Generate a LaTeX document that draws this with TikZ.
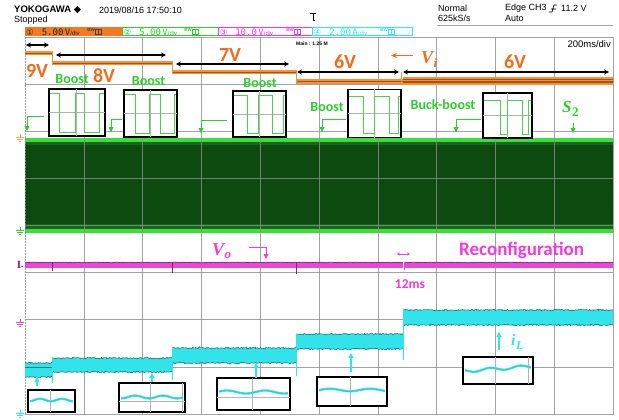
\documentclass[tikz,border=0pt]{standalone}
\usepackage{fontspec}
\setmainfont{Liberation Sans}
\newfontfamily\calfont{Carlito}
\newfontfamily\serfont{Liberation Serif}
\newfontfamily\djv{DejaVu Sans}
\newfontfamily\monof{DejaVu Sans Mono}
\usetikzlibrary{arrows.meta,decorations.pathmorphing}
\definecolor{oT}{HTML}{F26A1B}
\definecolor{chO}{HTML}{F47920}
\definecolor{oTr}{HTML}{F3913F}
\definecolor{oDk}{HTML}{A8520F}
\definecolor{gT}{HTML}{2ECC2E}
\definecolor{gW}{HTML}{4FCF4F}
\definecolor{bandD}{HTML}{0C4A10}
\definecolor{bandM}{HTML}{17661A}
\definecolor{bandL}{HTML}{3ADF3A}
\definecolor{mT}{HTML}{F03CD8}
\definecolor{mTr}{HTML}{E64AD8}
\definecolor{mDk}{HTML}{8A1E80}
\definecolor{cT}{HTML}{2EE6EE}
\definecolor{cTr}{HTML}{33E3EA}
\definecolor{cDk}{HTML}{1D7C80}
\definecolor{gridc}{HTML}{8C8C8C}
\tikzset{
  gridline/.style={draw=gridc, line width=0.6pt, opacity=0.8},
  voltlbl/.style={font=\calfont\bfseries\fontsize{20}{20}\selectfont, text=oT, inner sep=0pt},
  modelbl/.style={font=\calfont\bfseries\fontsize{14}{14}\selectfont, text=gT, inner sep=0pt},
  symlbl/.style={font=\serfont\bfseries\itshape\fontsize{18}{18}\selectfont, inner sep=0pt, anchor=base west},
  spanarrow/.style={draw=black, line width=1.1pt, {Stealth[length=5pt,width=5pt]}-{Stealth[length=5pt,width=5pt]}},
  gptr/.style={draw=gT, line width=0.9pt, -{Triangle[length=5pt,width=5pt]}},
  cptr/.style={draw=cT, line width=1.2pt, -{Triangle[length=5pt,width=5pt]}},
  insetbox/.style={draw=black, line width=1.2pt, fill=white},
  sqw/.style={draw=gW, line width=0.9pt},
  cwave/.style={draw=cT, line width=2.3pt},
  cwavec/.style={draw=cDk!70, line width=0.4pt},
  inlin/.style={draw=gray!60, line width=0.5pt},
  hdr/.style={font=\fontsize{9}{9}\selectfont, inner sep=0pt, anchor=west},
  chtxt/.style={font=\monof\fontsize{9}{9}\selectfont, inner sep=0pt, anchor=west},
  noisy/.style={decorate, decoration={random steps, segment length=1.2pt, amplitude=0.8pt}},
}
\newcommand\cseg[4]{%
  \fill[cTr] (#1,#3) rectangle (#2,#4);
  \draw[cDk, line width=0.6pt, noisy] (#1,#3) -- (#2,#3);
  \draw[cDk, line width=0.6pt, noisy] (#1,#4) -- (#2,#4);
}
\newcommand\oseg[4]{%
  \fill[oTr] (#1,#3) rectangle (#2,#4);
  \draw[oDk, line width=0.6pt] (#1,{(#3+#4)/2}) -- (#2,{(#3+#4)/2});
}
\newcommand\gndsym[3]{%
  \draw[#3, line width=0.7pt] (#1,{#2-3}) -- (#1,#2) (#1-4,#2) -- (#1+4,#2) (#1-2.6,#2+2) -- (#1+2.6,#2+2) (#1-1.2,#2+4) -- (#1+1.2,#2+4);
}
\newcommand\chicons[2]{%
  \node[inner sep=0pt, font=\fontsize{4.5}{4.5}\selectfont\bfseries, text=#2] at (#1,30) {BW};
  \draw[#2, line width=0.5pt] (#1+4,28.8) rectangle (#1+10,34.2) (#1+7,28.8) -- (#1+7,34.2);
}
\newcommand\chlabel[4]{{\djv\fontsize{8.5}{8.5}\selectfont #1}\hspace{8pt}#2\,#3{\fontsize{6}{6}\selectfont\normalfont/div}}
\begin{document}
\begin{tikzpicture}[x=1pt,y=-1pt]
\useasboundingbox (0,0) rectangle (619,420);
\fill[white] (0,0) rectangle (619,420);

% ---------- header ----------
\node[hdr, font=\bfseries\fontsize{9.5}{9.5}\selectfont] (yoko) at (14,10) {YOKOGAWA \djv◆};
\node[hdr] (date) at (99,10) {2019/08/16 17:50:10};
\node[hdr] (stop) at (14,20) {Stopped};
\node[hdr] (norm) at (438,8.5) {Normal};
\node[hdr] (rate) at (438,18) {625kS/s};
\node[hdr] (edge) at (505,8.5) {Edge CH3};
\node[hdr] (lev) at (561,8.5) {11.2 V};
\node[hdr] (auto) at (505,18) {Auto};
\draw[black, line width=0.7pt] (549,12) -- (552,12) -- (554,5) -- (557,5) (551,9) -- (556,9);
\draw[black, line width=0.7pt] (310,13) -- (316,13) (313,13) -- (313,20) -- (315,20);
\draw[gray!70, line width=0.8pt] (437,25) -- (613,25);

% channel boxes
\fill[chO] (25,27) rectangle (122,36);
\node[chtxt, text=black!85] (ch1) at (26,31.8) {\chlabel{①}{5.00}{V}{}};
\chicons{91}{black!75}

\draw[gT, line width=0.8pt] (122.5,27.5) rectangle (218,35.5);
\node[chtxt, text=gT] (ch2) at (123.5,31.8) {\chlabel{②}{5.00}{V}{}};
\chicons{188}{gT}

\draw[mT, line width=0.8pt] (218,27.5) rectangle (312,35.5);
\node[chtxt, text=mT] (ch3) at (219.5,31.8) {\chlabel{③}{10.0}{V}{}};
\chicons{290}{mT}

\draw[cT, line width=0.8pt] (312,27.5) rectangle (412,35.5);
\node[chtxt, text=cT] (ch4) at (313.5,31.8) {\chlabel{④}{2.00}{A}{}};
\chicons{384}{cT}

% ---------- S2 band ----------
\fill[bandD] (25,141) rectangle (613,229);
\fill[bandM] (25,141.5) rectangle (613,145);
\fill[bandM] (25,224) rectangle (613,228.5);
\fill[bandL] (25,137.5) rectangle (613,141.5);
\fill[bandL] (25,228.5) rectangle (613,232.5);

% ---------- grid ----------
\foreach \i in {1,...,9} \draw[gridline] ({25+58.8*\i},37) -- ({25+58.8*\i},414);
\foreach \j in {1,...,7} \draw[gridline] (25,{37+47.125*\j}) -- (613,{37+47.125*\j});
\draw[gridline] (25,37) -- (613,37) -- (613,414) -- (25,414);
\draw[gridline, dashed, dash pattern=on 2pt off 1pt] (25,37) -- (25,414);
\node[anchor=north west, inner sep=0pt, font=\bfseries\fontsize{5}{5}\selectfont] (main) at (296,41.5) {Main : 1.25 M};
\node[anchor=north east, inner sep=0pt, font=\fontsize{9.5}{9.5}\selectfont] (tdiv) at (611,40) {200ms/div};

% left markers
\gndsym{20}{137}{orange!70}
\gndsym{20}{230}{gT}
\gndsym{20}{322}{mT}
\gndsym{20}{413}{cT}
\node[inner sep=0pt, font=\serfont\bfseries\fontsize{11}{11}\selectfont, text=mDk] (mk) at (19,265) {I};
\fill[mDk] (22,266.5) circle (0.8pt);

% ---------- Vi (orange) ----------
\oseg{25}{52}{51}{55}
\oseg{52}{172}{61}{65.5}
\oseg{172}{296}{70}{74.5}
\oseg{296}{403}{79}{84}
\oseg{403}{613}{77}{85}
\draw[oDk, line width=0.6pt] (403,79.5) -- (613,79.5) (403,82.5) -- (613,82.5);
\draw[oTr, line width=0.8pt] (52,51) -- (52,65) (172,61) -- (172,74) (296,70) -- (296,84) (401,84) -- (401,72);

\coordinate (a9l) at (26,45); \coordinate (a9r) at (49,45);
\coordinate (a8l) at (56,55); \coordinate (a8r) at (166,55);
\coordinate (a7l) at (176,64); \coordinate (a7r) at (289,64);
\coordinate (a6l) at (297,72); \coordinate (a6r) at (399,72);
\coordinate (a5l) at (403,72); \coordinate (a5r) at (609,72);
\draw[spanarrow] (a9l) -- (a9r);
\draw[spanarrow] (a8l) -- (a8r);
\draw[spanarrow] (a7l) -- (a7r);
\draw[spanarrow] (a6l) -- (a6r);
\draw[spanarrow] (a5l) -- (a5r);

\node[voltlbl] (v9) at (37,71) {9V};
\node[voltlbl] (v8) at (104,75.5) {8V};
\node[voltlbl] (v7) at (230,55) {7V};
\node[voltlbl] (v6a) at (345,61.5) {6V};
\node[voltlbl] (v6b) at (515,61.5) {6V};
\node[symlbl, text=oT] (vi) at (421,64) {V\kern0.5pt\raisebox{-3.5pt}{\fontsize{13}{13}\selectfont i}};
\coordinate (viA) at (413,55.5); \coordinate (viB) at (391,55.5);
\draw[oT, line width=1.2pt, -{Stealth[length=6pt,width=5pt]}] (viA) -- (viB);

% ---------- mode labels ----------
\node[modelbl] (b1) at (72,79.5) {Boost};
\node[modelbl] (b2) at (148.5,81) {Boost};
\node[modelbl] (b3) at (260,83.5) {Boost};
\node[modelbl] (b4) at (327,107.5) {Boost};
\node[modelbl] (b5) at (443,104.5) {Buck-boost};
\node[symlbl, text=gT, font=\serfont\bfseries\itshape\fontsize{17}{17}\selectfont] (s2) at (562,113) {S\kern0.5pt\raisebox{-4pt}{\upshape\fontsize{13}{13}\selectfont 2}};

% ---------- green insets ----------
\node[insetbox, minimum width=56pt, minimum height=47pt, inner sep=0pt] (g1) at (77,112.5) {};
\draw[inlin] (49,112.5) -- (105,112.5) (76,89) -- (76,136);
\draw[sqw] (50,93) -- (59,93) -- (59,132) -- (75,132) -- (75,93) -- (84,93) -- (84,132) -- (99,132) -- (99,93) -- (104,93);
\node[insetbox, minimum width=53pt, minimum height=47pt, inner sep=0pt] (g2) at (150.5,113.5) {};
\draw[inlin] (124,113.5) -- (177,113.5) (150,90) -- (150,137);
\draw[sqw] (125,94) -- (135,94) -- (135,133) -- (149,133) -- (149,94) -- (160,94) -- (160,133) -- (174,133) -- (174,94) -- (176,94);
\node[insetbox, minimum width=53pt, minimum height=46pt, inner sep=0pt] (g3) at (259.5,114) {};
\draw[inlin] (233,114) -- (286,114) (259,91) -- (259,137);
\draw[sqw] (234,95) -- (247,95) -- (247,133) -- (258,133) -- (258,95) -- (272,95) -- (272,133) -- (283,133) -- (283,95) -- (285,95);
\node[insetbox, minimum width=53pt, minimum height=48pt, inner sep=0pt] (g4) at (374.5,113.5) {};
\draw[inlin] (348,113.5) -- (401,113.5) (374,89.5) -- (374,137.5);
\draw[sqw] (349,96) -- (363,96) -- (363,133) -- (374,133) -- (374,96) -- (389,96) -- (389,133) -- (398,133) -- (398,96) -- (400,96);
\node[insetbox, minimum width=49pt, minimum height=45pt, inner sep=0pt] (g5) at (507.5,115.5) {};
\draw[inlin] (483,115.5) -- (532,115.5) (507,93) -- (507,138);
\draw[sqw] (484,100) -- (500,100) -- (500,134) -- (507,134) -- (507,100) -- (522,100) -- (522,134) -- (528,134) -- (528,100) -- (531,100);

% green pointers
\coordinate (p1a) at (44,116); \coordinate (p1b) at (27,116); \coordinate (p1c) at (27,131);
\coordinate (p2a) at (122,119); \coordinate (p2b) at (111,119); \coordinate (p2c) at (111,132);
\coordinate (p3a) at (227,120); \coordinate (p3b) at (201,120); \coordinate (p3c) at (201,133);
\coordinate (p4a) at (346,119); \coordinate (p4b) at (322,119); \coordinate (p4c) at (322,132);
\coordinate (p5a) at (481,119); \coordinate (p5b) at (456,119); \coordinate (p5c) at (456,132);
\coordinate (p6a) at (573,123); \coordinate (p6c) at (573,133);
\draw[gptr] (p1a) -- (p1b) -- (p1c);
\draw[gptr] (p2a) -- (p2b) -- (p2c);
\draw[gptr] (p3a) -- (p3b) -- (p3c);
\draw[gptr] (p4a) -- (p4b) -- (p4c);
\draw[gptr] (p5a) -- (p5b) -- (p5c);
\draw[gptr] (p6a) -- (p6c);

% ---------- Vo (magenta) ----------
\fill[mTr] (25,261.5) rectangle (613,267.5);
\draw[mDk, line width=0.6pt, decorate, decoration={random steps, segment length=1.5pt, amplitude=0.4pt}] (25,262.5) -- (613,262.5);
\draw[mDk, line width=0.7pt] (52,262) -- (52,271) (172,262) -- (172,273) (296,262) -- (296,274);
\draw[white, line width=1pt] (403,261.5) -- (403,267.5);
\draw[mTr, line width=0.8pt] (404,262) -- (404,270);
\node[symlbl, text=mT] (vo) at (212,255) {V\kern0.5pt\raisebox{-3.5pt}{\fontsize{13}{13}\selectfont o}};
\coordinate (voA) at (249,247); \coordinate (voB) at (266,247); \coordinate (voC) at (266,259);
\draw[mT, line width=0.9pt, -{Triangle[length=5pt,width=5pt]}] (voA) -- (voB) -- (voC);
\node[anchor=base west, inner sep=0pt, font=\calfont\bfseries\fontsize{19}{19}\selectfont, text=mT] (rec) at (459,255) {Reconfiguration};
\coordinate (t1) at (397,254); \coordinate (t2) at (410,254);
\draw[mT, line width=0.8pt, {Stealth[length=3pt,width=3pt]}-{Stealth[length=3pt,width=3pt]}] (t1) -- (t2);
\node[inner sep=0pt, font=\calfont\bfseries\fontsize{13.5}{13.5}\selectfont, text=mT] (ms) at (410,284.5) {12ms};

% ---------- iL (cyan) ----------
\cseg{25}{52}{363}{377}
\cseg{52}{172}{358}{372}
\cseg{172}{296}{348}{363}
\cseg{296}{403}{334}{349}
\cseg{403}{613}{310}{325}
\draw[cDk, line width=0.5pt] (25,367) -- (52,367);
\draw[cTr, line width=0.8pt] (52,358) -- (52,383) (172,348) -- (172,380) (296,334) -- (296,376) (403,310) -- (403,360);

% cyan insets
\node[insetbox, minimum width=47pt, minimum height=22pt, inner sep=0pt] (c1) at (51.5,401) {};
\draw[inlin] (50,390) -- (50,412);
\draw[cwave] plot[domain=30:73, samples=50, smooth] (\x,{400+1.3*cos(16.4*(\x-51))});
\draw[cwavec] plot[domain=30:73, samples=50, smooth] (\x,{400+1.3*cos(16.4*(\x-51))});
\node[insetbox, minimum width=66pt, minimum height=29pt, inner sep=0pt] (c2) at (152,397.5) {};
\draw[inlin] (150,383) -- (150,412) (182,383) -- (182,412) (119,401) -- (185,401);
\draw[cwave] plot[domain=121:183, samples=60, smooth] (\x,{397+1.4*cos(12.9*(\x-149))});
\draw[cwavec] plot[domain=121:183, samples=60, smooth] (\x,{397+1.4*cos(12.9*(\x-149))});
\node[insetbox, minimum width=73pt, minimum height=32pt, inner sep=0pt] (c3) at (253.5,394) {};
\draw[inlin] (252,378) -- (252,410) (217,397) -- (290,397);
\draw[cwave] plot[domain=219:288, samples=60, smooth] (\x,{392+1.5*cos(9.5*(\x-246))});
\draw[cwavec] plot[domain=219:288, samples=60, smooth] (\x,{392+1.5*cos(9.5*(\x-246))});
\node[insetbox, minimum width=70pt, minimum height=29pt, inner sep=0pt] (c4) at (352,391.5) {};
\draw[inlin] (350,377) -- (350,406);
\draw[cwave] plot[domain=319:385, samples=60, smooth] (\x,{390+1.3*cos(9*(\x-350))});
\draw[cwavec] plot[domain=319:385, samples=60, smooth] (\x,{390+1.3*cos(9*(\x-350))});
\node[insetbox, minimum width=70pt, minimum height=27pt, inner sep=0pt] (c5) at (498,370.5) {};
\draw[inlin] (495,357) -- (495,384) (528,357) -- (528,384);
\draw[cwave] plot[domain=465:531, samples=60, smooth] (\x,{371-0.07*(\x-465)+1.5*cos(12*(\x-505))});
\draw[cwavec] plot[domain=465:531, samples=60, smooth] (\x,{371-0.07*(\x-465)+1.5*cos(12*(\x-505))});

% cyan pointers
\coordinate (q1a) at (37,386); \coordinate (q1b) at (37,377);
\coordinate (q2a) at (152,382); \coordinate (q2b) at (152,373);
\coordinate (q3a) at (256,378); \coordinate (q3b) at (256,363);
\coordinate (q4a) at (351,372); \coordinate (q4b) at (351,353);
\coordinate (q5a) at (499,350); \coordinate (q5b) at (499,332);
\draw[cptr] (q1a) -- (q1b);
\draw[cptr] (q2a) -- (q2b);
\draw[cptr] (q3a) -- (q3b);
\draw[cptr] (q4a) -- (q4b);
\draw[cptr] (q5a) -- (q5b);
\node[symlbl, text=cT, font=\serfont\bfseries\itshape\fontsize{16}{16}\selectfont] (il) at (511,345) {i\kern0.5pt\raisebox{-4pt}{\fontsize{12}{12}\selectfont L}};
\end{tikzpicture}
\end{document}
